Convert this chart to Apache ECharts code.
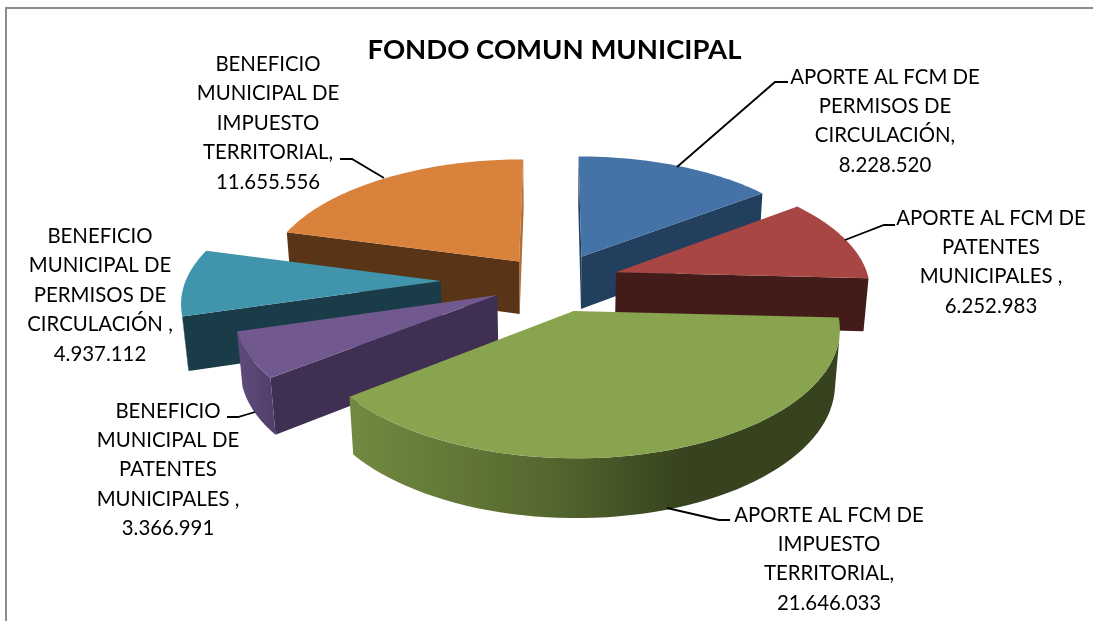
<!DOCTYPE html>
<html><head><meta charset="utf-8">
<style>html,body{margin:0;padding:0;background:#fff}#c{width:1093px;height:621px}</style>
<script src="https://cdn.jsdelivr.net/npm/echarts@6/dist/echarts.min.js"></script>
</head><body><div id="c"></div>
<script>
const chartTitle = "FONDO COMUN MUNICIPAL";
const categories = [
  "APORTE AL FCM DE\nPERMISOS DE\nCIRCULACIÓN",
  "APORTE AL FCM DE\nPATENTES\nMUNICIPALES ",
  "APORTE AL FCM DE\nIMPUESTO\nTERRITORIAL",
  "BENEFICIO\nMUNICIPAL DE\nPATENTES\nMUNICIPALES ",
  "BENEFICIO\nMUNICIPAL DE\nPERMISOS DE\nCIRCULACIÓN ",
  "BENEFICIO\nMUNICIPAL DE\nIMPUESTO\nTERRITORIAL"
];
const seriesValues = [8228520, 6252983, 21646033, 3366991, 4937112, 11655556];

// styling and layout, separate from the data
const topColors = ["#4573a7", "#a84644", "#88a44e", "#71588f", "#4095ad", "#d9823b"];
const sideColors = ["#233f5e", "#431c1a", "#5d7233", "#3f2f52", "#1a3c49", "#5a3417"];
const endWallColors = ["#233f5e", "#431c1a", "#5d7233", "#3f2f52", "#1a3c49", "#b36e36"];
const rimStops = [
  [["#233f5e", 0], ["#233f5e", 1]],
  [["#431c1a", 0], ["#431c1a", 1]],
  [["#718a42", 0], ["#55682f", 0.4], ["#37431e", 0.68], ["#37431e", 1]],
  [["#604b7c", 0], ["#503f68", 1]],
  [["#1a3c49", 0], ["#1a3c49", 1]],
  [["#5a3417", 0], ["#5a3417", 1]]
];
const explode = [0.207, 0.25, 0.28, 0.26, 0.46, 0.215];
const nudge = [[0.012, 0.017], [0.003, -0.006], [-0.016, 0.012], [0, -0.006], [0, -0.004], [-0.02, -0.01]];
const radiusScale = [1.012, 1.012, 1.02, 1.02, 1.02, 1.02];
const paintOrder = [1, 2, 5, 4, 3, 0];
const labelCentres = [[885, 77], [991, 218], [829, 515], [168, 411], [100, 236.5], [268, 64.5]];
const leaders = [
  [[677, 167], [775, 82], [788, 82]],
  [[845, 240], [884, 225], [895, 225]],
  [[667, 508], [719, 520], [730, 520]],
  [[255, 412], [238, 417], [227, 417]],
  null,
  [[384, 178], [352, 159], [340, 159]]
];
const cam = { cx: 556, cy: 280, F: 1750, d: 7, pitch: 28 * Math.PI / 180, h: 0.245 };
const LINE = 29.4, FONT = "Lato, 'Noto Sans', sans-serif";

const total = seriesValues.reduce((a, b) => a + b, 0);
function project(u, v, z) {
  const s = Math.sin(cam.pitch), c = Math.cos(cam.pitch);
  const D = cam.d + v * c - z * s;
  return [cam.cx + cam.F * u / D, cam.cy - cam.F * (v * s + z * c) / D];
}
function area(q) {
  let a = 0;
  for (let i = 0; i < q.length; i++) {
    const p = q[i], n = q[(i + 1) % q.length];
    a += p[0] * n[1] - n[0] * p[1];
  }
  return a;
}
const fmt = n => String(n).replace(/\B(?=(\d{3})+(?!\d))/g, ".");

function renderSlice(params, api) {
  const i = params.dataIndex, val = api.value(0);
  let before = 0;
  for (let k = 0; k < i; k++) before += seriesValues[k];
  const t0 = before / total * 2 * Math.PI, t1 = (before + val) / total * 2 * Math.PI, mid = (t0 + t1) / 2;
  const ax = explode[i] * Math.sin(mid) + nudge[i][0], ay = explode[i] * Math.cos(mid) + nudge[i][1];
  const rim = [], steps = 60, r = radiusScale[i];
  for (let k = 0; k <= steps; k++) {
    const t = t0 + (t1 - t0) * k / steps;
    rim.push([ax + r * Math.sin(t), ay + r * Math.cos(t)]);
  }
  const top = (p) => project(p[0], p[1], 0), bot = (p) => project(p[0], p[1], -cam.h);
  const apex = [ax, ay], children = [], z2 = paintOrder[i] * 10;
  const radial = (a, b, fill) => {
    const q = [top(a), top(b), bot(b), bot(a)];
    if (area(q) < 0) children.push({ type: 'polygon', z2, shape: { points: q }, style: { fill }, silent: true });
  };
  radial(rim[steps], apex, endWallColors[i]);
  radial(apex, rim[0], sideColors[i]);
  let run = [];
  const flush = () => {
    if (run.length > 1) {
      const pts = run.map(top).concat(run.slice().reverse().map(bot));
      children.push({
        type: 'polygon', z2: z2 + 1, shape: { points: pts }, silent: true,
        style: { fill: new echarts.graphic.LinearGradient(0, 0, 1, 0, rimStops[i].map(s => ({ color: s[0], offset: s[1] }))) }
      });
    }
    run = [];
  };
  for (let k = 0; k < steps; k++) {
    const q = [top(rim[k]), top(rim[k + 1]), bot(rim[k + 1]), bot(rim[k])];
    if (area(q) < 0) {
      if (!run.length) run.push(rim[k]);
      run.push(rim[k + 1]);
    } else flush();
  }
  flush();
  children.push({
    type: 'polygon', z2: z2 + 2, silent: true,
    shape: { points: [top(apex)].concat(rim.map(top)) },
    style: { fill: topColors[i] }
  });
  return { type: 'group', children };
}

const labelGraphics = categories.map((c, i) => ({
  type: 'text', x: labelCentres[i][0], y: labelCentres[i][1] - LINE / 2, silent: true, z: 20,
  style: {
    text: c + ",\n" + fmt(seriesValues[i]), align: 'center', verticalAlign: 'top',
    fill: '#000', font: "20.4px " + FONT, lineHeight: LINE
  }
}));
const leaderGraphics = leaders.filter(Boolean).map(pts => ({
  type: 'polyline', silent: true, z: 20, shape: { points: pts }, style: { stroke: '#000', lineWidth: 1.8, fill: null }
}));

const chart = echarts.init(document.getElementById('c'), null, { renderer: 'canvas' });
chart.setOption({
  animation: false,
  backgroundColor: '#fff',
  title: {
    text: chartTitle, left: 549.5, top: 31, textAlign: 'center',
    textStyle: { color: '#000', fontFamily: FONT, fontWeight: 'bold', fontSize: 27.5 }
  },
  graphic: [
    { type: 'polyline', silent: true, shape: { points: [[6, 621], [6, 8], [1093, 8]] }, style: { stroke: '#8c8c8c', lineWidth: 2, fill: null } }
  ].concat(leaderGraphics, labelGraphics),
  series: [{
    type: 'custom', coordinateSystem: 'none', renderItem: renderSlice,
    data: seriesValues.map(v => [v]), silent: true, clip: false
  }]
});
</script></body></html>
